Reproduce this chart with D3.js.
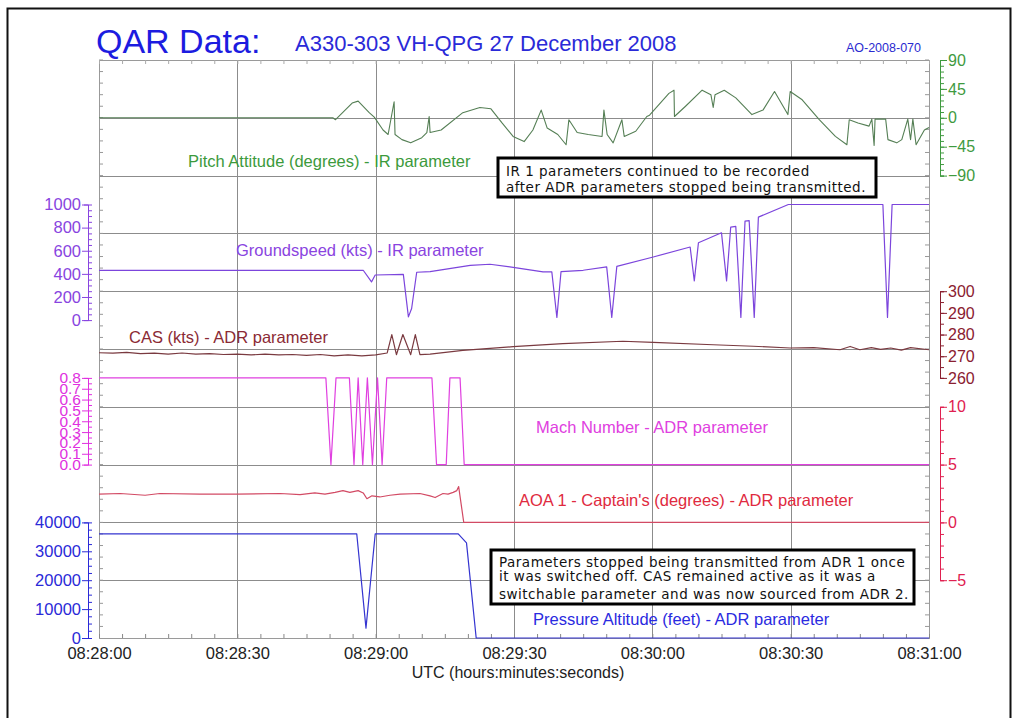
<!DOCTYPE html>
<html>
<head>
<meta charset="utf-8">
<script src="https://cdn.jsdelivr.net/npm/d3@7"></script>
<style>
  html, body { margin: 0; padding: 0; background: #fff; }
  svg { display: block; }
  text { font-family: "Liberation Sans", Arial, sans-serif; }
  .note { font-family: "DejaVu Sans", Verdana, sans-serif; }
</style>
</head>
<body>
<svg id="chart" width="1013" height="718"></svg>
<script>
// ---- time axis (seconds after 08:28:00 UTC) ----
const timeTicks = [0, 30, 60, 90, 120, 150, 180];
const timeLabels = ["08:28:00", "08:28:30", "08:29:00", "08:29:30", "08:30:00", "08:30:30", "08:31:00"];

// ---- Pitch Attitude (deg) ----
const pitchT = [0, 50.7, 51.3, 54.9, 56.2, 58.6, 59.7, 61.6, 62.7, 64.0, 64.2, 65.7, 67.6, 70.0, 71.1, 71.6, 71.8, 74.2, 78.9, 82.6, 85.0, 87.4, 89.8, 92.2, 94.1, 95.9, 97.2, 99.5, 101.3, 101.9, 103.7, 106.1, 109.1, 109.5, 110.2, 111.5, 113.4, 113.9, 116.4, 118.8, 119.4, 123.6, 124.7, 124.8, 127.2, 130.8, 132.7, 133.2, 133.6, 135.6, 138.1, 141.6, 144.0, 146.5, 149.4, 149.9, 152.5, 156.2, 159.7, 162.2, 162.7, 164.6, 167.0, 167.6, 168.1, 168.3, 170.6, 171.1, 173.0, 174.1, 175.4, 176.0, 176.5, 177.2, 179.0, 180];
const pitchV = [0, 0, -3, 23, 26, 8, 1, -19, -26, 25, -26, -34, -39, -31, -23, 2, -23, -19, 8, 16, 14, -8, -29, -37, -19, 12, -16, -26, -42, -3, -23, -26, -29, 12, -26, -39, -3, -29, -21, 2, 4, 38, 43, 2, 18, 43, 36, 16, 36, 43, 31, 5, 12, 41, 5, 41, 28, -3, -29, -42, -3, -8, -13, -2, -43, -2, -2, -34, -39, -34, -2, -34, -2, -42, -19, -15];

// ---- Groundspeed (kts) ----
const gsT = [0, 57.3, 59.1, 59.9, 66.0, 67.1, 67.8, 68.9, 71.8, 80.5, 84.8, 89.1, 96.3, 98.2, 99.3, 100.2, 105.0, 110.1, 111.2, 112.3, 120.2, 128.2, 129.1, 130.0, 135.0, 136.1, 137.0, 138.1, 139.2, 140.1, 141.0, 142.1, 143.0, 149.5, 170.0, 171.0, 172.0, 180];
const gsV = [431, 431, 330, 390, 395, 28, 100, 414, 420, 474, 483, 460, 417, 417, 23, 420, 431, 460, 23, 465, 546, 632, 339, 669, 755, 339, 805, 810, 23, 856, 860, 23, 891, 1000, 1000, 23, 1000, 1000];

// ---- CAS (kts) ----
const casT = [0, 3, 6, 9, 12, 15, 18, 21, 24, 27, 30, 33, 36, 39, 42, 45, 48, 51, 54, 57, 60, 62.5, 63.5, 64.5, 65.9, 67.6, 68.6, 69.6, 71.8, 78.9, 82.6, 89.8, 100.6, 113.6, 120.2, 133.2, 141.9, 149.9, 155, 160.7, 162.9, 165, 167.5, 169.5, 171.7, 174, 176, 180];
const casV = [271.6, 271.4, 271.8, 271.2, 271.4, 271.0, 271.5, 271.0, 271.2, 270.8, 271.0, 270.6, 271.0, 270.6, 270.8, 270.4, 270.8, 270.2, 270.6, 270.2, 270.6, 271.5, 280, 270.7, 280, 270.7, 280, 270.7, 271.0, 272.7, 273.3, 274.4, 275.8, 276.9, 276.4, 275.3, 274.6, 273.8, 274.0, 273.0, 274.5, 273.0, 274.0, 273.2, 273.8, 272.8, 274.0, 273.0];

// ---- Mach Number ----
const machT = [0, 49.2, 50.3, 51.4, 54.3, 55.3, 56.2, 57.2, 58.2, 59.3, 60.4, 61.4, 62.4, 72.2, 73.2, 75.3, 76.1, 78.3, 79.2, 180];
const machV = [0.8, 0.8, 0, 0.8, 0.8, 0, 0.8, 0, 0.8, 0, 0.8, 0, 0.8, 0.8, 0, 0, 0.8, 0.8, 0, 0];

// ---- AOA 1 - Captain's (deg) ----
const aoaT = [0, 4.6, 10.0, 13.2, 21.9, 29.9, 39.3, 43.6, 46.8, 49.0, 51.2, 52.9, 54.4, 56.2, 57.3, 58.1, 59.2, 60.9, 63.1, 65.3, 69.6, 71.8, 72.9, 74.6, 75.7, 76.8, 77.6, 78.0, 79.1, 180];
const aoaV = [2.45, 2.5, 2.35, 2.5, 2.45, 2.45, 2.5, 2.4, 2.55, 2.45, 2.6, 2.75, 2.6, 2.75, 2.55, 2.05, 2.3, 2.2, 2.35, 2.45, 2.5, 2.3, 2.15, 2.5, 2.45, 2.6, 2.75, 3.1, 0, 0];

// ---- Pressure Altitude (ft) ----
const altT = [0, 55.9, 57.9, 59.9, 77.9, 79.7, 81.8, 180];
const altV = [36000, 36000, 3400, 36000, 36000, 32900, 0, 0];

// ---- axis ticks ----
const pitchTicks = [90, 45, 0, -45, -90];
const gsTicks = [0, 200, 400, 600, 800, 1000];
const casTicks = [260, 270, 280, 290, 300];
const machTicks = [0, 0.1, 0.2, 0.3, 0.4, 0.5, 0.6, 0.7, 0.8];
const aoaTicks = [-5, 0, 5, 10];
const altTicks = [0, 10000, 20000, 30000, 40000];

// ---- layout ----
const svg = d3.select("#chart");
const plotL = 99, plotR = 929, plotT = 60, rowH = 57.8;
const row = k => plotT + k * rowH;
const plotB = row(10);
const leftAxisX = 88, rightAxisX = 940;
const gridColor = "#8c8c8c";
const axisFont = "Liberation Sans, Arial, sans-serif";

const x = d3.scaleLinear().domain([0, 180]).range([plotL, plotR]);

const yPitch = d3.scaleLinear().domain([-90, 90]).range([row(2), row(0)]);
const yGs = d3.scaleLinear().domain([0, 1000]).range([row(4.5), row(2.5)]);
const yCas = d3.scaleLinear().domain([260, 300]).range([row(5.5), row(4)]);
const yMach = d3.scaleLinear().domain([0, 0.8]).range([row(7), row(5.5)]);
const yAoa = d3.scaleLinear().domain([-5, 10]).range([row(9), row(6)]);
const yAlt = d3.scaleLinear().domain([0, 40000]).range([row(10), row(8)]);

// outer frame
svg.append("rect").attr("x", 7.5).attr("y", 8.5).attr("width", 1003).attr("height", 730)
  .attr("fill", "none").attr("stroke", "#111").attr("stroke-width", 2);

// titles
svg.append("text").attr("x", 96).attr("y", 53).attr("fill", "#1c1ce0")
  .attr("font-size", 34).text("QAR Data:");
svg.append("text").attr("x", 295).attr("y", 51).attr("fill", "#2a2ad8")
  .attr("font-size", 22).text("A330-303 VH-QPG 27 December 2008");
svg.append("text").attr("x", 921).attr("y", 52).attr("fill", "#2a2ad0")
  .attr("font-size", 12.5).attr("text-anchor", "end").text("AO-2008-070");

// grid
const grid = svg.append("g").attr("stroke", gridColor).attr("stroke-width", 1);
grid.selectAll("line.h").data(d3.range(1, 10)).join("line")
  .attr("x1", plotL).attr("x2", plotR)
  .attr("y1", d => Math.round(row(d)) + 0.5).attr("y2", d => Math.round(row(d)) + 0.5);
grid.selectAll("line.v").data(timeTicks.slice(1, -1)).join("line")
  .attr("y1", plotT).attr("y2", plotB)
  .attr("x1", d => Math.round(x(d)) + 0.5).attr("x2", d => Math.round(x(d)) + 0.5);

// frame with inner ticks
svg.append("rect").attr("x", plotL + 0.5).attr("y", plotT + 0.5)
  .attr("width", plotR - plotL).attr("height", plotB - plotT)
  .attr("fill", "none").attr("stroke", "#9a9a9a");
const edgeTicks = d3.range(0, 50).map(i => plotT + i * rowH / 5).filter(v => v < plotB - 1);
const ft = svg.append("g").attr("stroke", "#999");
ft.selectAll("line.l").data(edgeTicks).join("line")
  .attr("x1", plotL).attr("x2", plotL + 4).attr("y1", d => d).attr("y2", d => d);
ft.selectAll("line.r").data(edgeTicks).join("line")
  .attr("x1", plotR - 4).attr("x2", plotR).attr("y1", d => d).attr("y2", d => d);

// bottom time axis
const minorTimes = d3.range(0, 181, 5);
svg.append("g").attr("transform", `translate(0,${plotB})`)
  .call(d3.axisTop(x).tickValues(minorTimes).tickSize(4).tickFormat(""))
  .call(g => g.select(".domain").remove())
  .call(g => g.selectAll("line").attr("stroke", "#888"));
svg.append("g").attr("transform", `translate(0,${plotT})`)
  .call(d3.axisBottom(x).tickValues(minorTimes).tickSize(4).tickFormat(""))
  .call(g => g.select(".domain").remove())
  .call(g => g.selectAll("line").attr("stroke", "#aaa"));
svg.append("g").attr("transform", `translate(0,${plotB})`)
  .call(d3.axisBottom(x).tickValues(timeTicks).tickSize(0).tickPadding(9)
    .tickFormat((d, i) => timeLabels[i]))
  .call(g => g.select(".domain").remove())
  .call(g => g.selectAll("text").attr("font-size", 16.5).attr("fill", "#222")
    .attr("font-family", axisFont));
svg.append("text").attr("x", 518).attr("y", 678).attr("text-anchor", "middle")
  .attr("font-size", 16).attr("fill", "#222").text("UTC (hours:minutes:seconds)");

// value axes: minor ticks in one group, labelled major ticks in another
function valueAxis(side, scale, ticks, minorStep, fmt, color, fontSize) {
  const ax = side === "left" ? leftAxisX : rightAxisX;
  const [d0, d1] = scale.domain();
  const minor = d3.range(d0, d1 + minorStep / 2, minorStep);
  const gMinor = svg.append("g").attr("transform", `translate(${ax},0)`)
    .call(d3.axisRight(scale).tickValues(minor).tickSize(4).tickSizeOuter(0).tickFormat(""));
  const major = side === "left"
    ? d3.axisLeft(scale).tickSize(6).tickSizeOuter(4)
    : d3.axisRight(scale).tickSize(7).tickSizeOuter(4);
  const gMajor = svg.append("g").attr("transform", `translate(${ax},0)`)
    .call(major.tickValues(ticks).tickPadding(1).tickFormat(fmt));
  [gMinor, gMajor].forEach(g => g.selectAll("line,path").attr("stroke", color));
  gMajor.selectAll("text").attr("fill", color).attr("font-size", fontSize)
    .attr("font-family", axisFont);
}

valueAxis("left", yGs, gsTicks, 50, d3.format("d"), "#8844e0", 16.5);
valueAxis("left", yMach, machTicks, 0.05, d3.format(".1f"), "#e030e0", 15.5);
valueAxis("left", yAlt, altTicks, 2500, d3.format("d"), "#2a2ad8", 16.5);
valueAxis("right", yPitch, pitchTicks, 9, d3.format("d"), "#3f9a3f", 16);
valueAxis("right", yCas, casTicks, 5, d3.format("d"), "#8a2030", 16);
valueAxis("right", yAoa, aoaTicks, 1, d3.format("d"), "#e02050", 16);

// series
function drawSeries(ts, vs, scale, color, width) {
  const pts = ts.map((t, i) => [t, vs[i]]);
  svg.append("path").datum(pts)
    .attr("fill", "none").attr("stroke", color).attr("stroke-width", width)
    .attr("stroke-linejoin", "round")
    .attr("d", d3.line().x(d => x(d[0])).y(d => scale(d[1])));
}
drawSeries(pitchT, pitchV, yPitch, "#557f55", 1.1);
drawSeries(gsT, gsV, yGs, "#7c45dc", 1.2);
drawSeries(casT, casV, yCas, "#7a3a40", 1.2);
drawSeries(machT, machV, yMach, "#e040e0", 1.2);
drawSeries(aoaT, aoaV, yAoa, "#d24a64", 1.2);
drawSeries(altT, altV, yAlt, "#3434d0", 1.2);

// series labels
const labels = [
  { text: "Pitch Attitude (degrees) - IR parameter", x: 188, y: 167, color: "#3c9a3c" },
  { text: "Groundspeed (kts) - IR parameter", x: 236, y: 256, color: "#8a44e0" },
  { text: "CAS (kts) - ADR parameter", x: 129, y: 343, color: "#8b2a34" },
  { text: "Mach Number - ADR parameter", x: 536, y: 433, color: "#e040e0" },
  { text: "AOA 1 - Captain's (degrees) - ADR parameter", x: 519, y: 506, color: "#e02a40" },
  { text: "Pressure Altitude (feet) - ADR parameter", x: 533, y: 625, color: "#2a2ae0" }
];
svg.append("g").selectAll("text").data(labels).join("text")
  .attr("x", d => d.x).attr("y", d => d.y).attr("fill", d => d.color)
  .attr("font-size", 16.5).text(d => d.text);

// annotation boxes
function note(bx, by, bw, bh, lines, baselines) {
  const g = svg.append("g");
  g.append("rect").attr("x", bx).attr("y", by).attr("width", bw).attr("height", bh)
    .attr("fill", "#fff").attr("stroke", "#000").attr("stroke-width", 3);
  g.selectAll("text").data(lines).join("text").attr("class", "note")
    .attr("x", bx + 8).attr("y", (d, i) => baselines[i])
    .attr("font-size", 13.5).attr("letter-spacing", 0.5).attr("fill", "#111").text(d => d);
}
note(498, 158, 378, 39,
  ["IR 1 parameters continued to be recorded", "after ADR parameters stopped being transmitted."],
  [176, 192]);
note(491, 550, 423, 54,
  ["Parameters stopped being transmitted from ADR 1 once",
   "it was switched off. CAS remained active as it was a",
   "switchable parameter and was now sourced from ADR 2."],
  [567, 581, 599]);
</script>
</body>
</html>
